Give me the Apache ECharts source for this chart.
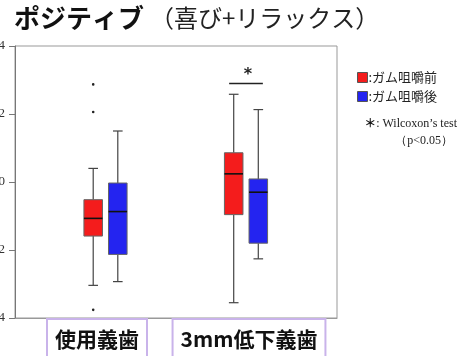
<!DOCTYPE html>
<html>
<head>
<meta charset="utf-8">
<script src="https://cdn.jsdelivr.net/npm/echarts@6/dist/echarts.min.js"></script>
<style>
  html, body { margin: 0; padding: 0; background: #fff; }
  #chart { width: 463px; height: 356px; }
</style>
</head>
<body>
<div id="chart"></div>
<script>
// Groups along the x axis
const groups = ['使用義歯', '3mm低下義歯'];
// Series names
const seriesNames = ['ガム咀嚼前', 'ガム咀嚼後'];
// Box statistics per group: [min, Q1, median, Q3, max]
const beforeStats = [
  [-3.04, -1.59, -1.07, -0.52, 0.40],
  [-3.55, -0.96, 0.24, 0.86, 2.58]
];
const afterStats = [
  [-2.93, -2.13, -0.87, -0.03, 1.50],
  [-2.26, -1.80, -0.30, 0.09, 2.13]
];
// Outliers: [group index, value]
const beforeOutliers = [[0, 2.87], [0, 2.06], [0, -3.76]];
const afterOutliers = [];
// Significance marker: [group index, bracket height]
const significance = [[1, 2.9]];
// Y axis range
const yMin = -4, yMax = 4, yStep = 2;

const chart = echarts.init(document.getElementById('chart'));

function toItems(stats) {
  return stats.map((s, i) => [i].concat(s));
}

function boxRenderer(side) {
  return function (params, api) {
    const cat = api.value(0);
    const band = api.size([1, 0])[0];
    const cx = api.coord([cat, 0])[0] + side * band * 0.0875;
    const w = band * 0.132;
    const cap = w * 0.52;
    const y = (k) => api.coord([cat, api.value(k)])[1];
    const yLo = y(1), yQ1 = y(2), yMed = y(3), yQ3 = y(4), yHi = y(5);
    const lineStyle = { stroke: '#444', lineWidth: 1.2 };
    return {
      type: 'group',
      children: [
        { type: 'line', shape: { x1: cx, y1: yHi, x2: cx, y2: yQ3 }, style: lineStyle },
        { type: 'line', shape: { x1: cx, y1: yQ1, x2: cx, y2: yLo }, style: lineStyle },
        { type: 'line', shape: { x1: cx - cap / 2, y1: yHi, x2: cx + cap / 2, y2: yHi }, style: lineStyle },
        { type: 'line', shape: { x1: cx - cap / 2, y1: yLo, x2: cx + cap / 2, y2: yLo }, style: lineStyle },
        { type: 'rect', shape: { x: cx - w / 2, y: yQ3, width: w, height: yQ1 - yQ3 },
          style: { fill: api.visual('color'), stroke: '#666', lineWidth: 1 } },
        { type: 'line', shape: { x1: cx - w / 2, y1: yMed, x2: cx + w / 2, y2: yMed },
          style: { stroke: '#111', lineWidth: 1.6 } }
      ]
    };
  };
}

function sigRenderer(params, api) {
  const cat = api.value(0);
  const band = api.size([1, 0])[0];
  const p = api.coord([cat, api.value(1)]);
  const half = band * 0.12;
  return {
    type: 'group',
    children: [
      { type: 'line', shape: { x1: p[0] - half, y1: p[1], x2: p[0] + half, y2: p[1] },
        style: { stroke: '#222', lineWidth: 1.5 } },
      { type: 'text', x: p[0] + 2, y: p[1] - 1,
        style: { text: '*', fill: '#222', font: 'bold 16px "DejaVu Sans"', align: 'center', verticalAlign: 'bottom' } }
    ]
  };
}

const noteFont = '"Liberation Serif", serif';

const option = {
  animation: false,
  backgroundColor: '#fff',
  title: [
    {
      left: 9, top: 0,
      text: '{b|ポジティブ}{n|（喜び+リラックス）}',
      textStyle: {
        rich: {
          b: { fontSize: 26, fontWeight: 'bold', color: '#111', fontFamily: '"Noto Sans CJK JP"' },
          n: { fontSize: 24, fontWeight: 'normal', color: '#222', fontFamily: '"Noto Sans CJK JP"', padding: [0, 0, 0, 6] }
        }
      }
    },
    {
      right: 1, top: 110,
      text: '{s|＊}{a|: Wilcoxon\u2019s test}\n{p|（p<0.05）}',
      textStyle: {
        fontWeight: 'normal',
        rich: {
          s: { fontSize: 12, fontWeight: 'bold', color: '#111', fontFamily: '"Noto Sans CJK JP"', lineHeight: 17 },
          a: { fontSize: 12, fontWeight: 'normal', color: '#222', fontFamily: noteFont, lineHeight: 17 },
          p: { fontSize: 12, fontWeight: 'normal', color: '#222', fontFamily: noteFont, align: 'right', lineHeight: 17, padding: [0, 4, 0, 0] }
        }
      }
    }
  ],
  legend: {
    orient: 'vertical',
    left: 352, top: 66,
    itemWidth: 10, itemHeight: 10, itemGap: 6,
    icon: 'rect',
    data: seriesNames,
    formatter: (name) => ':' + name,
    textStyle: { fontSize: 13, color: '#222', fontFamily: '"Noto Sans CJK JP"', padding: [0, 0, 0, -4] },
    itemStyle: { borderColor: '#555', borderWidth: 1 }
  },
  grid: [
    // plot frame
    { left: 15, right: 126, top: 46, bottom: 38, show: true, borderColor: '#999', borderWidth: 1,
      containLabel: false, outerBoundsMode: 'none' },
    // box positions
    { left: 35.25, width: 281, top: 46, bottom: 38, show: false,
      containLabel: false, outerBoundsMode: 'none' },
    // group name labels
    { left: 21, width: 304, top: 46, bottom: 38, show: false,
      containLabel: false, outerBoundsMode: 'none' }
  ],
  xAxis: [
    {
      gridIndex: 0, type: 'category', data: groups, boundaryGap: true,
      axisLine: { onZero: false, lineStyle: { color: '#999' } },
      axisTick: { show: false },
      axisLabel: { show: false }
    },
    {
      gridIndex: 1, type: 'category', data: groups, boundaryGap: true,
      show: false
    },
    {
      gridIndex: 2, type: 'category', data: groups, boundaryGap: true,
      axisLine: { show: false, onZero: false },
      axisTick: { show: false },
      axisLabel: {
        interval: 0, margin: 2,
        fontSize: 21, fontWeight: 'bold', color: '#111', fontFamily: '"Noto Sans CJK JP"',
        borderColor: '#c9b3ea', borderWidth: 2, padding: [6, 7, 4, 7], lineHeight: 26,
        backgroundColor: '#fff'
      }
    }
  ],
  yAxis: [
    {
      gridIndex: 0, type: 'value', min: yMin, max: yMax, interval: yStep,
      splitLine: { show: false },
      axisLine: { show: true, lineStyle: { color: '#777' } },
      axisTick: { show: true, length: 6, lineStyle: { color: '#777' } },
      axisLabel: { margin: 10, fontSize: 13, color: '#333', fontFamily: noteFont }
    },
    { gridIndex: 1, type: 'value', min: yMin, max: yMax, show: false },
    { gridIndex: 2, type: 'value', min: yMin, max: yMax, show: false }
  ],
  series: [
    {
      name: seriesNames[0], type: 'custom', xAxisIndex: 1, yAxisIndex: 1,
      itemStyle: { color: '#f41c1c' },
      encode: { x: 0, y: [1, 2, 3, 4, 5] },
      data: toItems(beforeStats),
      renderItem: boxRenderer(-1)
    },
    {
      name: seriesNames[1], type: 'custom', xAxisIndex: 1, yAxisIndex: 1,
      itemStyle: { color: '#2424f0' },
      encode: { x: 0, y: [1, 2, 3, 4, 5] },
      data: toItems(afterStats),
      renderItem: boxRenderer(1)
    },
    {
      name: 'outliers-before', type: 'custom', xAxisIndex: 1, yAxisIndex: 1,
      data: beforeOutliers,
      renderItem: function (params, api) {
        const band = api.size([1, 0])[0];
        const p = api.coord([api.value(0), api.value(1)]);
        return { type: 'circle', shape: { cx: p[0] - band * 0.0875, cy: p[1], r: 1.3 }, style: { fill: '#222' } };
      }
    },
    {
      name: 'outliers-after', type: 'custom', xAxisIndex: 1, yAxisIndex: 1,
      data: afterOutliers,
      renderItem: function (params, api) {
        const band = api.size([1, 0])[0];
        const p = api.coord([api.value(0), api.value(1)]);
        return { type: 'circle', shape: { cx: p[0] + band * 0.0875, cy: p[1], r: 1.3 }, style: { fill: '#222' } };
      }
    },
    {
      name: 'significance', type: 'custom', xAxisIndex: 1, yAxisIndex: 1,
      data: significance,
      renderItem: sigRenderer
    }
  ]
};

chart.setOption(option);
</script>
</body>
</html>
